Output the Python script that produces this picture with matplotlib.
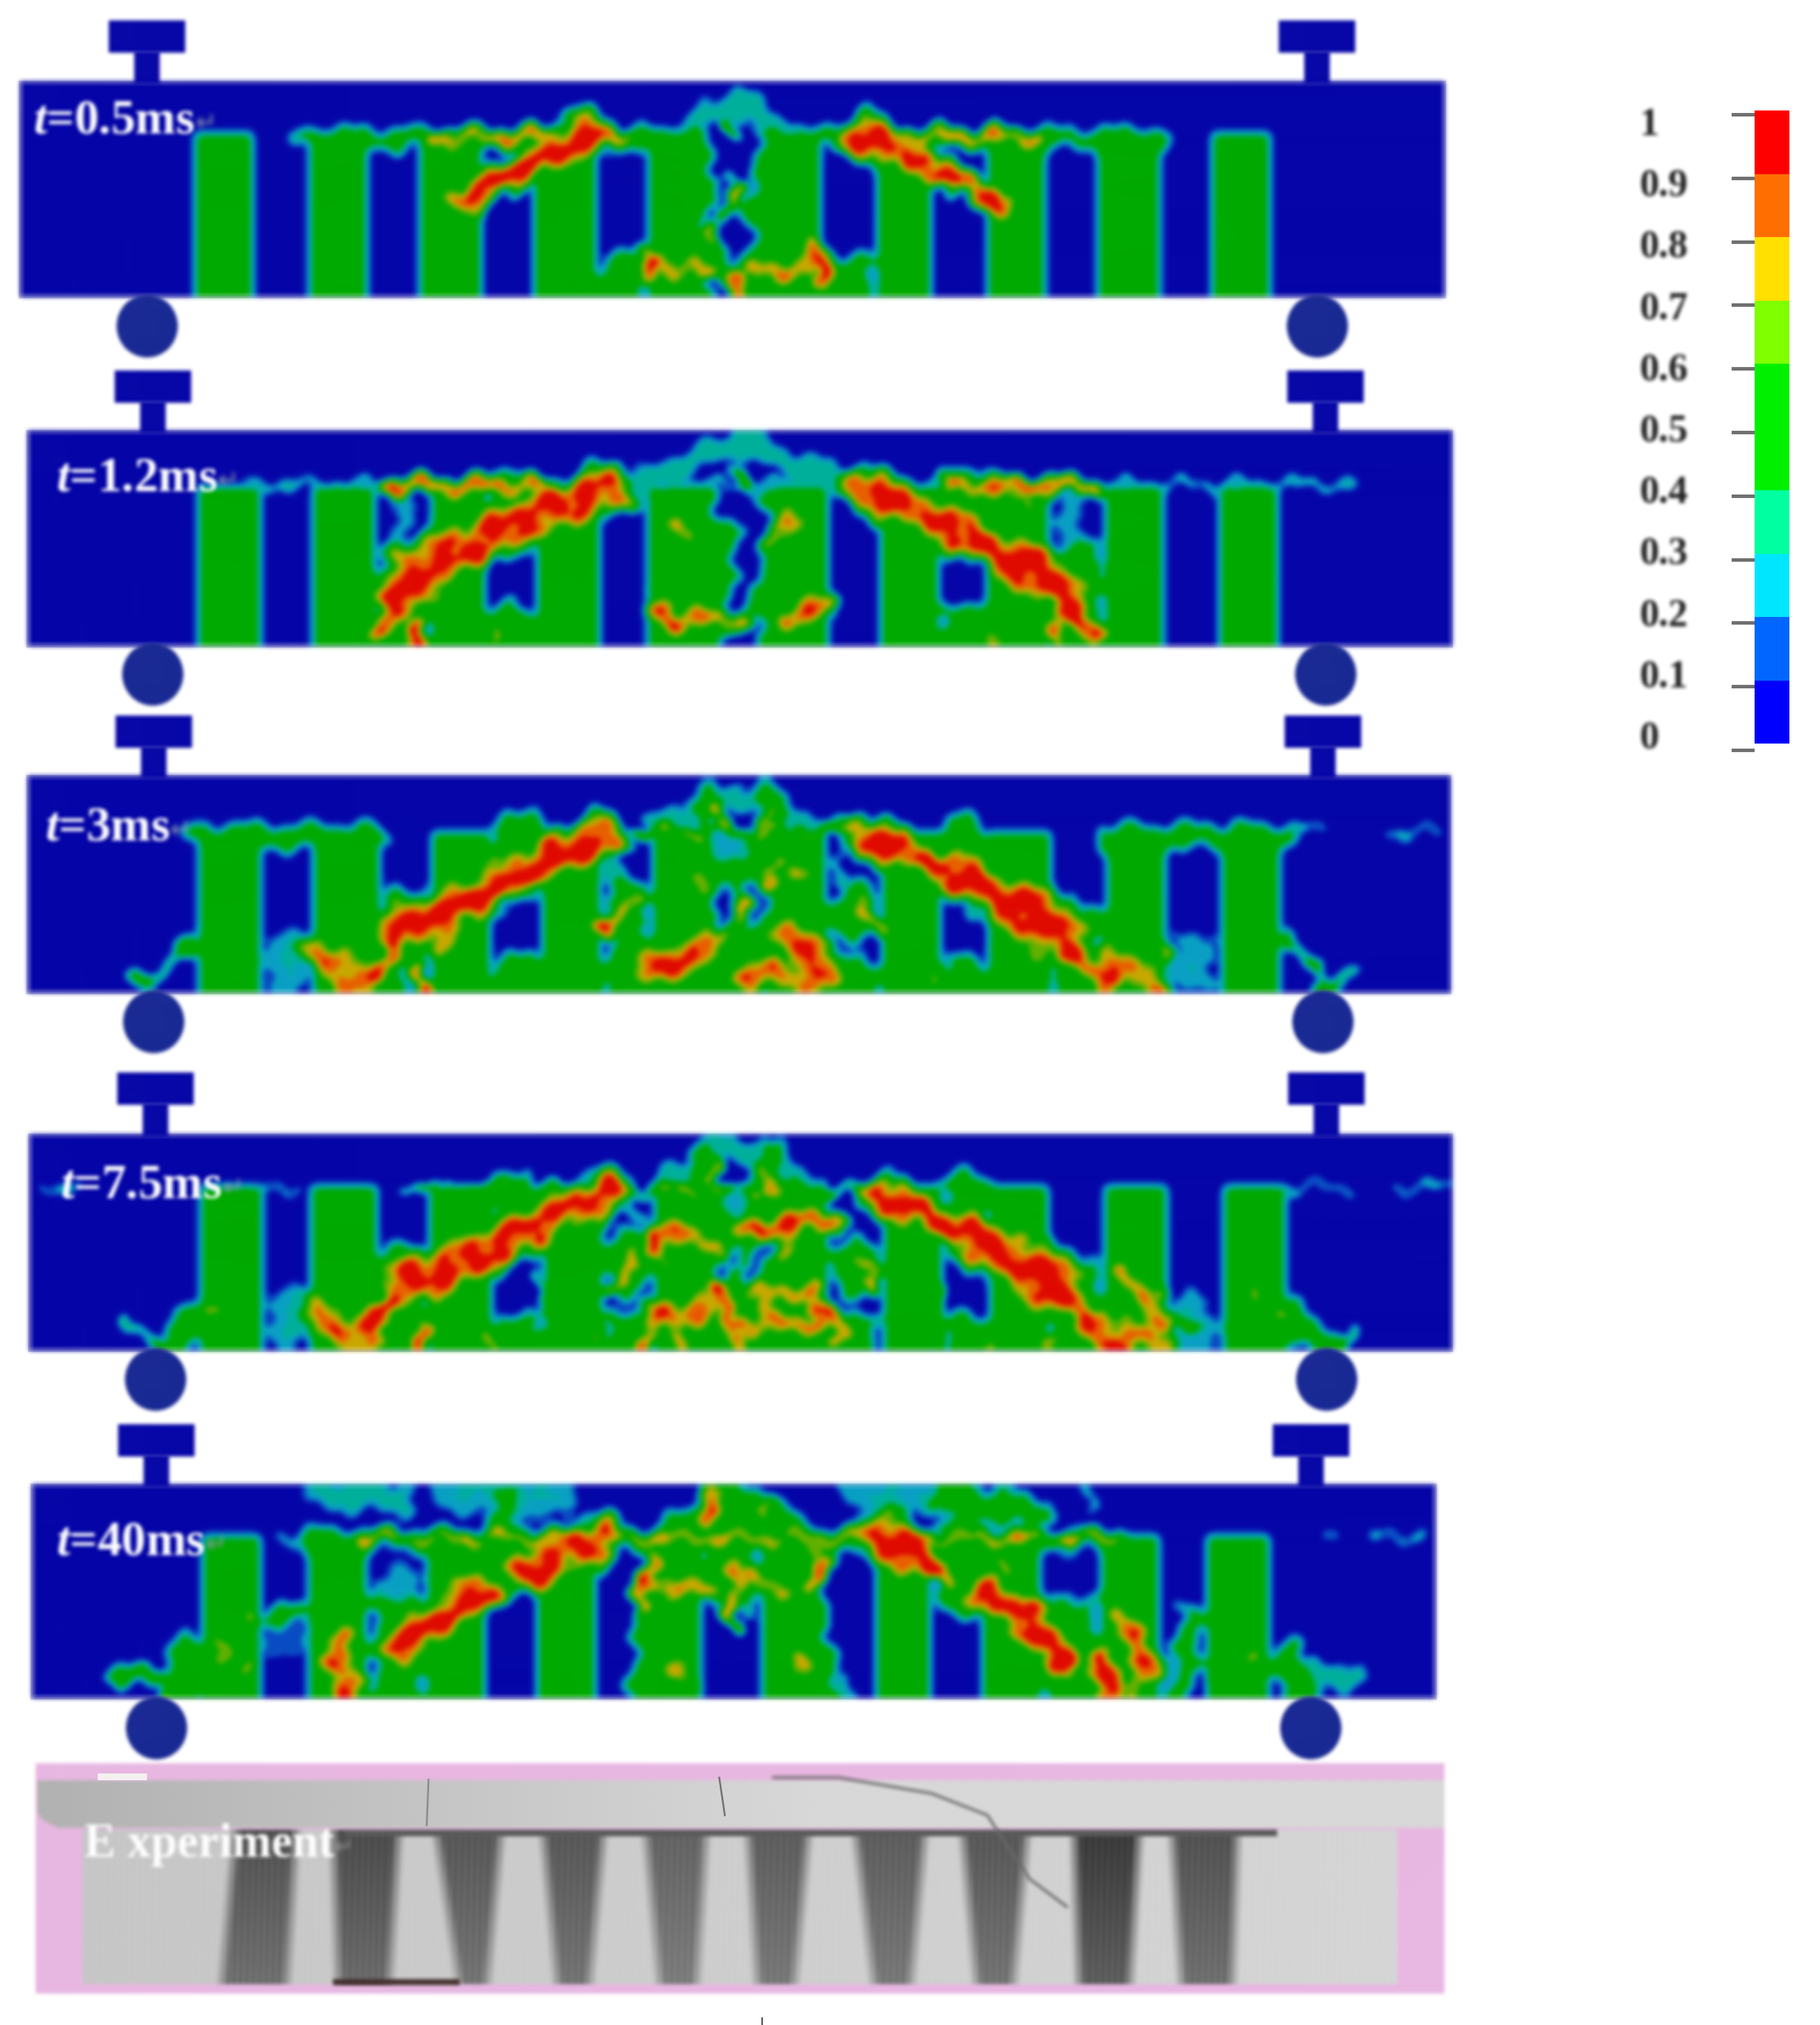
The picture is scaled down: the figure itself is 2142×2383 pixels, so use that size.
import numpy as np
import matplotlib
matplotlib.use("Agg")
import matplotlib.pyplot as plt
from matplotlib.colors import ListedColormap, BoundaryNorm
from matplotlib.patches import Rectangle, Ellipse
from matplotlib.cm import ScalarMappable

plt.rcParams['mathtext.fontset'] = 'custom'
plt.rcParams['mathtext.it'] = 'Liberation Serif:italic:bold'
plt.rcParams['mathtext.rm'] = 'Liberation Serif:bold'

W, H = 2142, 2383
XS = 0.912

LEVELS = [0, .1, .2, .3, .4, .6, .7, .8, .9, 1.0]
TICKS = [0, .1, .2, .3, .4, .5, .6, .7, .8, .9, 1]
TICK_LABELS = ['0', '0.1', '0.2', '0.3', '0.4', '0.5', '0.6', '0.7', '0.8', '0.9', '1']
LEGEND_COLORS = ['#0000ff', '#0066ff', '#00e6ff', '#00ffa0', '#00f000', '#7fff00', '#ffe000', '#ff6e00', '#ff0000']
FIELD_COLORS = ['#0606a8', '#0a4cc4', '#0aa0c4', '#00b09a', '#00aa00', '#62b000', '#c8a800', '#e86000', '#e00a00']

# Every stroke: (polyline points, half-widths in px at its ends, peak damage)
# ---------- t = 0.5 ms ----------
BARS_05 = [(205,272),(328,392),(450,515),(570,640),(695,880),(940,1000),(1060,1125),(1180,1245),(1300,1365)]
FILL_05 = [([(328,318),(1245,318)],(12,12),.5), ([(665,640),(665,685)],(30,30),.5), ([(910,640),(910,685)],(30,30),.5)]
HOLES_05 = [([(787,330),(787,380)],(30,26),0), ([(785,440),(765,520)],(16,12),.0), ([(805,360),(795,440)],(10,8),.0),
            ([(787,545),(795,570)],(22,14),0), ([(770,670),(770,690)],(12,12),0)]
HALO_05 = [([(787,228),(728,305)],(18,18),.36), ([(787,228),(848,305)],(18,18),.36), ([(640,640),(640,685)],(12,12),.36), ([(930,640),(930,685)],(12,12),.36)]
CRACK_05 = [([(630,312),(560,385)],(40,26),1.0), ([(560,385),(495,465)],(24,22),.96), ([(925,312),(1000,385)],(36,22),1.0), ([(1000,385),(1078,470)],(22,24),.96),
            ([(460,315),(670,312)],(14,14),.85), ([(905,312),(1115,315)],(14,14),.85), ([(787,282),(787,302)],(8,8),.8),
            ([(790,425),(780,490)],(9,9),.85), ([(765,515),(762,540)],(9,9),.8),
            ([(695,595),(697,640)],(17,17),1.0), ([(878,580),(885,665)],(18,18),1.0), ([(787,625),(787,685)],(15,15),1.0),
            ([(715,615),(765,630)],(15,15),.82), ([(815,630),(860,615)],(17,17),.88)]
# ---------- t = 1.2 ms ----------
BARS_12 = [(212,280),(332,400),(460,520),(575,645),(695,890),(945,1010),(1060,1125),(1185,1250),(1310,1375)]
FILL_12 = [([(545,1130),(545,1240)],(30,30),.5), ([(1035,1130),(1035,1230)],(30,30),.5), ([(1155,1310),(1155,1490)],(32,32),.5),
           ([(430,1350),(430,1490)],(32,32),.5), ([(545,1445),(545,1490)],(30,30),.5), ([(1035,1445),(1035,1490)],(30,30),.5)]
HOLES_12 = [([(793,1125),(793,1165)],(28,26),0), ([(810,1200),(795,1390)],(16,12),0), ([(795,1470),(795,1495)],(24,24),0)]
HALO_12 = [([(790,1012),(695,1110)],(20,20),.36), ([(790,1012),(895,1110)],(20,20),.36), ([(430,1170),(430,1220)],(16,16),.25),
           ([(1150,1160),(1150,1240)],(20,20),.25), ([(270,1115),(1450,1115)],(6,6),.36), ([(1040,1150),(1060,1210)],(22,22),.36)]
CRACK_12 = [([(655,1122),(580,1180)],(38,36),1.0), ([(580,1180),(520,1240)],(36,34),1.0), ([(520,1240),(445,1320)],(34,50),1.0),
            ([(445,1320),(405,1450)],(50,18),1.0), ([(925,1122),(1000,1190)],(34,34),1.0), ([(1000,1190),(1070,1270)],(30,36),1.0),
            ([(1070,1270),(1130,1340)],(36,50),1.0), ([(1130,1340),(1170,1450)],(44,22),1.0),
            ([(415,1118),(570,1118)],(14,14),.92), ([(1015,1118),(1170,1118)],(14,14),.92),
            ([(793,1075),(793,1105)],(9,9),.95), ([(733,1225),(733,1226)],(20,20),.8), ([(850,1210),(835,1225)],(24,24),.85),
            ([(705,1400),(725,1430)],(22,22),.95), ([(725,1425),(790,1430)],(18,18),.82), ([(845,1425),(880,1400)],(24,24),.85),
            ([(452,1450),(445,1490)],(14,14),1.0), ([(525,1450),(525,1490)],(9,9),.75), ([(580,1440),(580,1490)],(7,7),.7),
            ([(1060,1445),(1075,1490)],(10,10),.75), ([(1135,1450),(1130,1490)],(12,12),.95), ([(1095,1150),(1095,1170)],(22,22),.72)]
# ---------- t = 3 ms ----------
BARS_30 = [(212,278),(332,405),(460,525),(580,645),(700,885),(945,1010),(1060,1125),(1185,1250),(1310,1375)]
FILL_30 = [([(212,345),(405,345)],(14,14),.5), ([(1185,345),(1375,345)],(14,14),.5), ([(552,340),(552,440)],(30,30),.5), ([(672,490),(672,520)],(26,26),.5),
           ([(672,610),(672,695)],(28,28),.5), ([(915,500),(915,525)],(28,28),.5), ([(915,650),(915,695)],(28,28),.5),
           ([(1035,340),(1035,440)],(28,28),.5), ([(1155,550),(1155,695)],(30,30),.5), ([(430,520),(430,695)],(30,30),.5),
           ([(552,650),(552,695)],(28,28),.5), ([(1035,650),(1035,695)],(28,28),.5)]
HOLES_30 = [([(782,335),(782,385)],(32,14),.25), ([(780,470),(770,520)],(9,8),0), ([(812,475),(805,535)],(10,8),0), ([(810,680),(810,695)],(12,12),0),
            ([(440,650),(440,695)],(10,10),.2)]
HALO_30 = [([(790,250),(705,325)],(18,18),.36), ([(790,250),(875,325)],(18,18),.36), ([(305,600),(305,660)],(30,30),.3), ([(1280,600),(1280,650)],(30,30),.3),
           ([(210,570),(150,680)],(10,10),.5), ([(135,650),(165,690)],(8,8),.5), ([(1375,570),(1430,680)],(10,10),.5), ([(1450,650),(1415,690)],(8,8),.5),
           ([(650,400),(680,470)],(10,10),.36), ([(900,360),(900,490)],(6,6),.36), ([(1380,330),(1420,330)],(5,5),.36), ([(1490,335),(1540,335)],(6,6),.32)]
GREENTOP_30 = [([(760,265),(760,330)],(18,18),.5), ([(825,265),(825,330)],(18,18),.5)]
CRACK_30 = [([(645,345),(580,400)],(36,32),1.0), ([(580,400),(500,490)],(32,36),1.0), ([(500,490),(430,545)],(36,40),1.0), ([(430,545),(400,660)],(22,16),1.0),
            ([(925,345),(1030,430)],(34,22),1.0), ([(1030,430),(1130,550)],(34,54),1.0), ([(1130,550),(1170,640)],(40,18),1.0), ([(1170,640),(1195,670)],(16,18),.95),
            ([(480,530),(470,560)],(34,34),.86), ([(340,600),(390,685)],(34,28),.85), ([(1190,630),(1240,670)],(34,28),.85), ([(1235,575),(1250,620)],(8,8),.75),
            ([(745,440),(755,455)],(17,17),.8), ([(825,410),(830,440)],(15,15),.88), ([(850,425),(870,440)],(12,12),.75), ([(680,490),(645,550)],(10,10),.92), ([(925,495),(940,560)],(11,11),.9),
            ([(800,500),(760,590)],(9,9),.86), ([(760,590),(700,640)],(28,32),.95), ([(845,560),(890,660)],(32,26),.92), ([(800,650),(870,660)],(28,28),.85),
            ([(450,655),(448,695)],(12,12),1.0), ([(525,665),(525,695)],(10,10),.75), ([(580,645),(578,695)],(7,7),.7), ([(640,670),(640,695)],(6,6),.7), ([(1005,645),(1005,695)],(6,6),.7),
            ([(770,285),(770,325)],(10,10),.82), ([(820,285),(815,320)],(8,8),.8), ([(705,342),(705,345)],(12,12),.72), ([(925,335),(650,335)],(4,4),.9)]
# ---------- t = 7.5 ms ----------
BARS_75 = [(212,280),(332,405),(460,525),(580,645),(700,885),(945,1010),(1060,1125),(1185,1250),(1310,1380)]
FILL_75 = [([(552,1140),(552,1240)],(30,30),.5), ([(672,1270),(672,1320)],(26,26),.5), ([(672,1450),(672,1490)],(28,28),.5),
           ([(915,1290),(915,1320)],(28,28),.5), ([(915,1450),(915,1490)],(28,28),.5), ([(1035,1140),(1035,1240)],(28,28),.5),
           ([(430,1310),(430,1490)],(30,30),.5), ([(1155,1340),(1155,1490)],(30,30),.5), ([(552,1450),(552,1490)],(26,26),.5), ([(1035,1450),(1035,1490)],(26,26),.5),
           ([(240,1370),(180,1480)],(18,18),.5), ([(1345,1370),(1420,1480)],(18,18),.5), ([(1280,1430),(1280,1490)],(26,26),.25)]
HOLES_75 = [([(785,1150),(785,1180)],(14,12),.25), ([(780,1270),(775,1320)],(9,8),0), ([(815,1265),(810,1325)],(10,8),0)]
HALO_75 = [([(780,1035),(705,1120)],(18,18),.36), ([(790,1035),(870,1120)],(18,18),.36), ([(305,1390),(305,1440)],(28,28),.3), ([(1280,1390),(1280,1420)],(26,26),.3),
           ([(135,1430),(165,1480)],(8,8),.5), ([(1455,1440),(1415,1480)],(8,8),.5), ([(40,1125),(80,1125)],(5,5),.36), ([(280,1125),(320,1125)],(5,5),.36),
           ([(1380,1125),(1445,1125)],(5,5),.36), ([(1490,1125),(1555,1125)],(6,6),.32), ([(670,1140),(680,1190)],(12,12),.36), ([(790,1150),(815,1210)],(12,12),.36)]
GREENTOP_75 = [([(750,1060),(750,1125)],(18,18),.5), ([(825,1060),(825,1125)],(18,18),.5)]
CRACK_75 = [([(650,1140),(580,1200)],(36,32),1.0), ([(580,1200),(500,1290)],(32,36),1.0), ([(500,1290),(430,1340)],(36,40),1.0), ([(430,1340),(395,1450)],(22,16),1.0),
            ([(945,1145),(1030,1220)],(34,22),1.0), ([(1030,1220),(1130,1340)],(34,54),1.0), ([(1130,1340),(1165,1425)],(40,20),1.0), ([(1180,1440),(1195,1490)],(34,24),1.0),
            ([(480,1320),(470,1350)],(30,30),.86), ([(340,1410),(390,1470)],(36,32),.87), ([(1205,1320),(1250,1420)],(16,22),.86), ([(1215,1450),(1250,1490)],(30,24),.85), ([(1270,1440),(1280,1450)],(8,8),.72),
            ([(700,1210),(705,1270)],(16,16),.95), ([(705,1220),(765,1255)],(18,18),.85), ([(800,1225),(890,1195)],(20,20),.92), ([(840,1215),(840,1255)],(18,18),.82),
            ([(685,1285),(650,1350)],(9,9),.92), ([(920,1290),(940,1350)],(11,11),.9),
            ([(770,1345),(790,1490)],(13,13),.95), ([(700,1420),(760,1395)],(24,24),.92), ([(700,1420),(695,1470)],(16,16),.9), ([(800,1360),(870,1360)],(15,15),.84), ([(870,1360),(905,1470)],(14,14),.95),
            ([(795,1430),(875,1430)],(17,17),.88), ([(730,1440),(730,1490)],(10,10),.8), ([(820,1390),(825,1440)],(14,14),.8),
            ([(450,1450),(450,1490)],(14,14),1.0), ([(525,1460),(525,1490)],(9,9),.75), ([(580,1320),(578,1490)],(5,5),.68), ([(640,1460),(630,1490)],(6,6),.7), ([(1005,1320),(1005,1490)],(5,5),.66),
            ([(1060,1450),(1060,1490)],(10,10),.8), ([(1130,1450),(1130,1490)],(10,10),.8), ([(265,1310),(225,1400)],(6,6),.72), ([(1345,1345),(1370,1405)],(7,7),.78),
            ([(765,1075),(765,1120)],(9,9),.82), ([(820,1070),(825,1120)],(9,9),.82), ([(660,1133),(940,1133)],(4,4),.88), ([(420,1125),(600,1125)],(3,3),.75)]
# ---------- t = 40 ms ----------
BARS_40 = [(215,280),(330,395),(455,520),(575,640),(695,755),(815,880),(940,1000),(1055,1120),(1180,1245),(1295,1365)]
FILL_40 = [([(330,348),(1195,348)],(14,14),.5), ([(785,340),(785,490)],(34,34),.5), ([(700,540),(690,745)],(18,18),.5), ([(875,540),(890,745)],(14,14),.5),
           ([(427,470),(427,745)],(30,30),.5), ([(545,340),(545,430)],(30,30),.5), ([(1030,340),(1030,480)],(30,30),.5), ([(1150,540),(1150,745)],(30,30),.5),
           ([(200,640),(195,745)],(22,22),.5), ([(790,240),(725,330)],(22,22),.5), ([(790,240),(850,330)],(22,22),.5), ([(1280,540),(1270,740)],(14,14),.5),
           ([(1380,640),(1400,745)],(18,18),.5)]
HOLES_40 = [([(1150,380),(1150,450)],(28,28),.25), ([(425,380),(430,450)],(26,26),.25), ([(785,560),(785,745)],(26,28),0)]
HALO_40 = [([(340,225),(430,240)],(24,24),.33), ([(485,225),(600,240)],(30,30),.3), ([(540,230),(540,290)],(20,20),.5), ([(920,225),(1000,235)],(24,24),.3),
           ([(1010,230),(1110,280)],(28,28),.46), ([(1170,220),(1170,265)],(8,8),.3), ([(290,540),(325,540)],(16,16),.46), ([(285,610),(325,610)],(16,16),.2),
           ([(125,690),(170,700)],(16,16),.5), ([(1390,690),(1450,695)],(20,20),.36), ([(905,720),(910,745)],(10,10),.33), ([(1420,340),(1425,340)],(8,8),.28), ([(1475,338),(1530,338)],(8,8),.28),
           ([(310,345),(310,350)],(12,12),.28)]
CRACK_40 = [([(640,345),(610,375)],(38,34),1.0), ([(610,375),(565,430)],(34,36),1.0), ([(520,470),(435,610)],(30,38),1.0), ([(700,385),(685,525)],(14,12),.92), ([(700,450),(760,480)],(22,16),.85),
            ([(790,420),(785,555)],(16,9),.9), ([(800,450),(845,470)],(16,16),.8), ([(880,390),(875,470)],(16,14),.92), ([(950,340),(1010,430)],(46,20),1.0),
            ([(1060,490),(1095,530)],(34,34),1.0), ([(1095,530),(1150,680)],(40,20),1.0), ([(1185,650),(1190,745)],(26,26),1.0), ([(1210,570),(1235,660)],(26,26),.92), ([(1230,650),(1215,745)],(22,22),.8),
            ([(360,600),(370,730)],(26,32),.92), ([(265,545),(265,550)],(15,15),.78), ([(240,600),(235,640)],(14,14),.86), ([(262,685),(265,690)],(13,13),.72),
            ([(725,665),(735,695)],(20,20),.8), ([(860,650),(850,685)],(17,17),.76), ([(1310,545),(1310,560)],(9,9),.72), ([(1340,640),(1340,655)],(10,10),.72), ([(1310,690),(1310,695)],(12,12),.72),
            ([(380,342),(1195,342)],(8,8),.86), ([(760,230),(765,295)],(16,16),.9), ([(825,250),(825,270)],(12,12),.85), ([(178,715),(188,745)],(7,7),.86), ([(1075,395),(1075,405)],(16,16),.66)]

PANEL_LABELS = ['=0.5ms', '=1.2ms', '=3ms', '=7.5ms', '=40ms']
BEAM_LEFT = [22, 30, 30, 32, 35]
BEAM_RIGHT = [1550, 1558, 1556, 1558, 1540]
BEAM_TOP = [190, 995, 215, 1012, 210]
BEAM_WEB = [305, 1115, 330, 1125, 335]
BEAM_BOTTOM = [685, 1490, 695, 1490, 745]
Y_OFFSET = [0, 0, 800, 800, 1650]
Y_SCALE = [1.96, 1.96, 1.889, 1.889, 2.139]
SUPPORT_L = [158, 164, 165, 167, 168]
SUPPORT_R = [1414, 1423, 1420, 1424, 1407]
PLATE_TOP = [48, 855, 80, 872, 55]
CIRCLE_MID = [752, 1555, 760, 1555, 820]
LABEL_X = [36, 60, 48, 65, 60]
LABEL_Y = [280, 1105, 330, 1125, 355]
BARS = [BARS_05, BARS_12, BARS_30, BARS_75, BARS_40]
FILLS = [FILL_05, FILL_12, FILL_30 + GREENTOP_30, FILL_75 + GREENTOP_75, FILL_40]
HOLES = [HOLES_05, HOLES_12, HOLES_30, HOLES_75, HOLES_40]
HALOS = [HALO_05, HALO_12, HALO_30, HALO_75, HALO_40]
CRACKS = [CRACK_05, CRACK_12, CRACK_30, CRACK_75, CRACK_40]

# experiment photograph: dark strips (top-left, top-right, bottom-left, bottom-right)
STRIPS = [(245,325,230,315),(350,435,355,425),(460,545,485,530),(575,655,590,640),(685,765,700,755),
          (795,875,805,860),(910,1000,930,985),(1025,1110,1040,1095),(1145,1230,1150,1220),(1250,1335,1260,1330)]
STRIP_DARK = [.40,.42,.38,.38,.34,.36,.36,.38,.48,.40]
PHOTO_CRACK_X = [830,900,1000,1060,1072,1105,1145]
PHOTO_CRACK_Y = [945,945,985,1040,1085,1200,1270]


def soft(sigma):
    """agg filter reproducing the soft look of the scanned reference."""
    n = max(1, int(round(sigma * 1.6)))
    pad = 3 * n

    def box(a, axis):
        c = np.cumsum(a, axis=axis)
        zero = np.zeros_like(np.take(c, [0], axis=axis))
        c = np.concatenate([zero, c], axis=axis)
        size = a.shape[axis]
        hi = np.clip(np.arange(size) + n + 1, 0, size)
        lo = np.clip(np.arange(size) - n, 0, size)
        return (np.take(c, hi, axis=axis) - np.take(c, lo, axis=axis)) / (2 * n + 1)

    def f(img, dpi):
        im = np.pad(img, ((pad, pad), (pad, pad), (0, 0)))
        alpha = im[..., 3:]
        pm = np.concatenate([im[..., :3] * alpha, alpha], axis=2)
        for _ in range(2):
            pm = box(box(pm, 0), 1)
        a = pm[..., 3:]
        rgb = np.where(a > 1e-4, pm[..., :3] / np.maximum(a, 1e-4), 0)
        return np.concatenate([rgb.clip(0, 1), a.clip(0, 1)], axis=2), -pad, -pad
    return f


def seg_ratio(X, Y, pts, hw):
    (x0, y0), (x1, y1) = pts
    dx, dy = x1 - x0, y1 - y0
    den = dx * dx + dy * dy + 1e-6
    t = np.clip(((X - x0) * dx + (Y - y0) * dy) / den, 0, 1)
    d = np.hypot(X - x0 - t * dx, Y - y0 - t * dy)
    return d / (hw[0] + t * (hw[1] - hw[0]))


def smooth(a):
    k = np.array([1, 2, 1]) / 4
    a = np.apply_along_axis(lambda r: np.convolve(np.pad(r, 1, mode='edge'), k, 'valid'), 0, a)
    return np.apply_along_axis(lambda r: np.convolve(np.pad(r, 1, mode='edge'), k, 'valid'), 1, a)


def build_field(i, cell=5.0):
    sx = lambda v: v / XS
    sy = lambda v: Y_OFFSET[i] + v / Y_SCALE[i]
    P = lambda pts: [(sx(a), sy(b)) for a, b in pts]
    x0, x1, y0, y1 = sx(BEAM_LEFT[i]), sx(BEAM_RIGHT[i]), sy(BEAM_TOP[i]), sy(BEAM_BOTTOM[i])
    xs = np.arange(x0, x1, cell)
    ys = np.arange(y0, y1, cell)
    X, Y = np.meshgrid(xs, ys)
    # irregular outline of the damage bands
    Xw = X + 6 * np.sin(Y / 9.0 + X / 37.0) + 4 * np.sin(Y / 4.3 - X / 19.0)
    Yw = Y + 6 * np.sin(X / 11.0 - Y / 31.0) + 4 * np.sin(X / 5.1 + Y / 13.0)
    mott = .07 * np.sin(X / 17.0 + Y / 7.0) + .06 * np.sin(X / 7.0 - Y / 11.0)
    F = np.zeros_like(X)
    web = sy(BEAM_WEB[i])
    for a, b in BARS[i]:
        F[(X >= sx(a)) & (X <= sx(b)) & (Y >= web)] = .5
    for pts, hw, v in FILLS[i]:
        r = seg_ratio(Xw, Yw, P(pts), hw)
        F = np.where(r < 1, np.maximum(F, v), F)
    for pts, hw, v in HOLES[i]:
        r = seg_ratio(Xw, Yw, P(pts), hw)
        F = np.where(r < 1, np.minimum(F, v), F)
    F = smooth(F)
    for pts, hw, v in HALOS[i]:
        r = seg_ratio(Xw, Yw, P(pts), hw)
        F = np.maximum(F, v * np.clip(1.3 * (1 - r ** 2), 0, 1))
    for pts, hw, v in CRACKS[i]:
        r = seg_ratio(Xw, Yw, P(pts), hw)
        F = np.maximum(F, (v + mott) * np.clip(1 - r ** 2, 0, 1))
    return smooth(F), (x0, x1, y1, y0)


fig = plt.figure(figsize=(W / 100, H / 100), dpi=100, facecolor='white')
ax = fig.add_axes([0, 0, 1, 1])
ax.set_xlim(0, W)
ax.set_ylim(H, 0)
ax.axis('off')
field_cmap = ListedColormap(FIELD_COLORS)
field_norm = BoundaryNorm(LEVELS, field_cmap.N, clip=True)
NAVY = '#0808a8'

for i in range(5):
    F, ext = build_field(i)
    im = ax.imshow(F, extent=ext, cmap=field_cmap, norm=field_norm, aspect='auto', interpolation='bilinear',
                   interpolation_stage='data', zorder=2)
    im.set_agg_filter(soft(2))
    x0, x1, yb, yt = ext
    ax.add_patch(Rectangle((x0, yt), x1 - x0, yb - yt, fill=False, ec='#c8c8e4', lw=3, zorder=1.5))
    py = Y_OFFSET[i] + PLATE_TOP[i] / Y_SCALE[i]
    for s in (SUPPORT_L[i], SUPPORT_R[i]):
        cx = s / XS
        parts = [Rectangle((cx - 45, py), 90, 38, fc=NAVY, ec='none', zorder=3),
                 Rectangle((cx - 15, py + 36), 30, yt - py - 34, fc=NAVY, ec='none', zorder=3),
                 Ellipse((cx, Y_OFFSET[i] + CIRCLE_MID[i] / Y_SCALE[i]), 72, 74, fc='#1a2a94', ec='none', zorder=3)]
        for p in parts:
            ax.add_patch(p)
            p.set_agg_filter(soft(1.5))
    tx = ax.text(LABEL_X[i] / XS, Y_OFFSET[i] + LABEL_Y[i] / Y_SCALE[i], r'$\mathit{t}$' + PANEL_LABELS[i], color='white',
                 fontsize=41, family='Liberation Serif', weight='bold', va='center', ha='left', zorder=5)
    tx.set_agg_filter(soft(1))
    ar = ax.annotate('\u21b5', xy=(1, .45), xycoords=tx, color='#8a9ab0', fontsize=22, family='DejaVu Sans', va='center', ha='left', zorder=5)
    ar.set_agg_filter(soft(1))

# ---------- experiment photograph ----------
PX0, PX1, PY0, PY1 = 42, 1700, 2075, 2346
xs = np.arange(PX0, PX1)
ys = np.arange(PY0, PY1)
X, Y = np.meshgrid(xs, ys)
pho = np.ones(X.shape + (3,)) * np.array([.91, .72, .89])
psy = lambda v: 1650 + v / 2.139
web_mask = (X >= 88 / XS) & (X <= 1500 / XS) & (Y >= psy(1075)) & (Y <= psy(1465))
grain = .03 * np.sin(X * .83 + Y * .02) + .025 * np.sin(X * 2.1 - Y * .03) + .015 * np.sin(X * 5.3)
gray = .78 + .06 * (X - 96) / 1550 + grain * .3
for (a, b, c, d), k in zip(STRIPS, STRIP_DARK):
    t = np.clip((Y - psy(1075)) / (psy(1465) - psy(1075)), 0, 1)
    xl = (a + t * (c - a)) / XS
    xr = (b + t * (d - b)) / XS
    edge = np.clip(np.minimum(X - xl, xr - X) / 16, 0, 1)
    val = (.78 - k * (1.15 - .3 * t)) + 1.6 * grain
    gray = np.where(web_mask & (edge > 0), gray * (1 - edge) + val * edge, gray)
pho[web_mask] = np.stack([gray] * 3, -1)[web_mask]
band = web_mask & (Y < psy(1092)) & (X > 370 / XS) & (X < 1370 / XS)
pho[band] = .36
fl_left = 40 + 22 * np.clip((Y - psy(1030)) / (psy(1070) - psy(1030)), 0, 1) ** 2
fl = (Y >= psy(950)) & (Y <= psy(1070)) & (X >= fl_left / XS) & (X <= 1550 / XS)
flv = .70 + .15 * np.clip((X - 60) / 900, 0, 1) + .006 * np.sin(X * .31 + Y * .7)
pho[fl] = np.stack([flv] * 3, -1)[fl]
ph = ax.imshow(pho.clip(0, 1), extent=(PX0, PX1, PY1, PY0), aspect='auto', interpolation='bilinear', zorder=2)
ph.set_agg_filter(soft(1.5))
ax.set_xlim(0, W)
ax.set_ylim(H, 0)
ax.plot(np.array(PHOTO_CRACK_X) / XS, psy(np.array(PHOTO_CRACK_Y)), color='#6a6a6a', lw=2.2, zorder=3)[0].set_agg_filter(soft(1))
ax.plot([460 / XS, 458 / XS], [psy(950), psy(1065)], color='#8a8a8a', lw=1.5, zorder=3)
ax.plot([772 / XS, 778 / XS], [psy(945), psy(1040)], color='#707070', lw=1.5, zorder=3)
ax.plot([360 / XS, 490 / XS], [psy(1458), psy(1458)], color='#43302e', lw=5, zorder=3)[0].set_agg_filter(soft(1))
ax.add_patch(Rectangle((105 / XS, psy(935)), 58, 8, fc='#f4f0f0', ec='none', zorder=3))
ax.plot([897, 897], [2375, 2383], color='#666666', lw=1.5, zorder=3)
ex = ax.text(90 / XS, psy(1115), 'E xperiment', color='white', fontsize=40, family='Liberation Serif', weight='bold',
             va='center', ha='left', zorder=5)
ex.set_agg_filter(soft(1))
ex_ar = ax.annotate('\u21b5', xy=(1, .45), xycoords=ex, color='#9a9a9a', fontsize=20, family='DejaVu Sans', va='center', ha='left', zorder=5)
ex_ar.set_agg_filter(soft(1))

# ---------- legend ----------
cax = fig.add_axes([2065 / W, 1 - 875 / H, 41 / W, 745 / H])
cb = fig.colorbar(ScalarMappable(norm=BoundaryNorm(LEVELS, 9), cmap=ListedColormap(LEGEND_COLORS)), cax=cax,
                  spacing='proportional', ticks=[])
cb.outline.set_visible(False)
cb.minorticks_off()
tick_ax = fig.add_axes([2065 / W, 1 - 883 / H, 1 / W, 748 / H])
tick_ax.set_ylim(0, 1)
tick_ax.patch.set_alpha(0)
for s in tick_ax.spines.values():
    s.set_visible(False)
tick_ax.set_xticks([])
tick_ax.set_yticks(TICKS)
tick_ax.set_yticklabels([])
tick_ax.tick_params(axis='y', length=19.5, width=3, color='#707070')
lab_ax = fig.add_axes([1928 / W, 1 - 865 / H, 1 / W, 722 / H])
lab_ax.set_ylim(0, 1)
lab_ax.patch.set_alpha(0)
for s in lab_ax.spines.values():
    s.set_visible(False)
lab_ax.set_xticks([])
lab_ax.yaxis.tick_right()
lab_ax.set_yticks(TICKS)
lab_ax.set_yticklabels(TICK_LABELS, family='Liberation Serif', weight='bold', fontsize=33, color='#222222')
lab_ax.tick_params(axis='y', length=0, pad=0)
for lbl in lab_ax.get_yticklabels():
    lbl.set_agg_filter(soft(1))

fig.savefig('out.png', dpi=100)
